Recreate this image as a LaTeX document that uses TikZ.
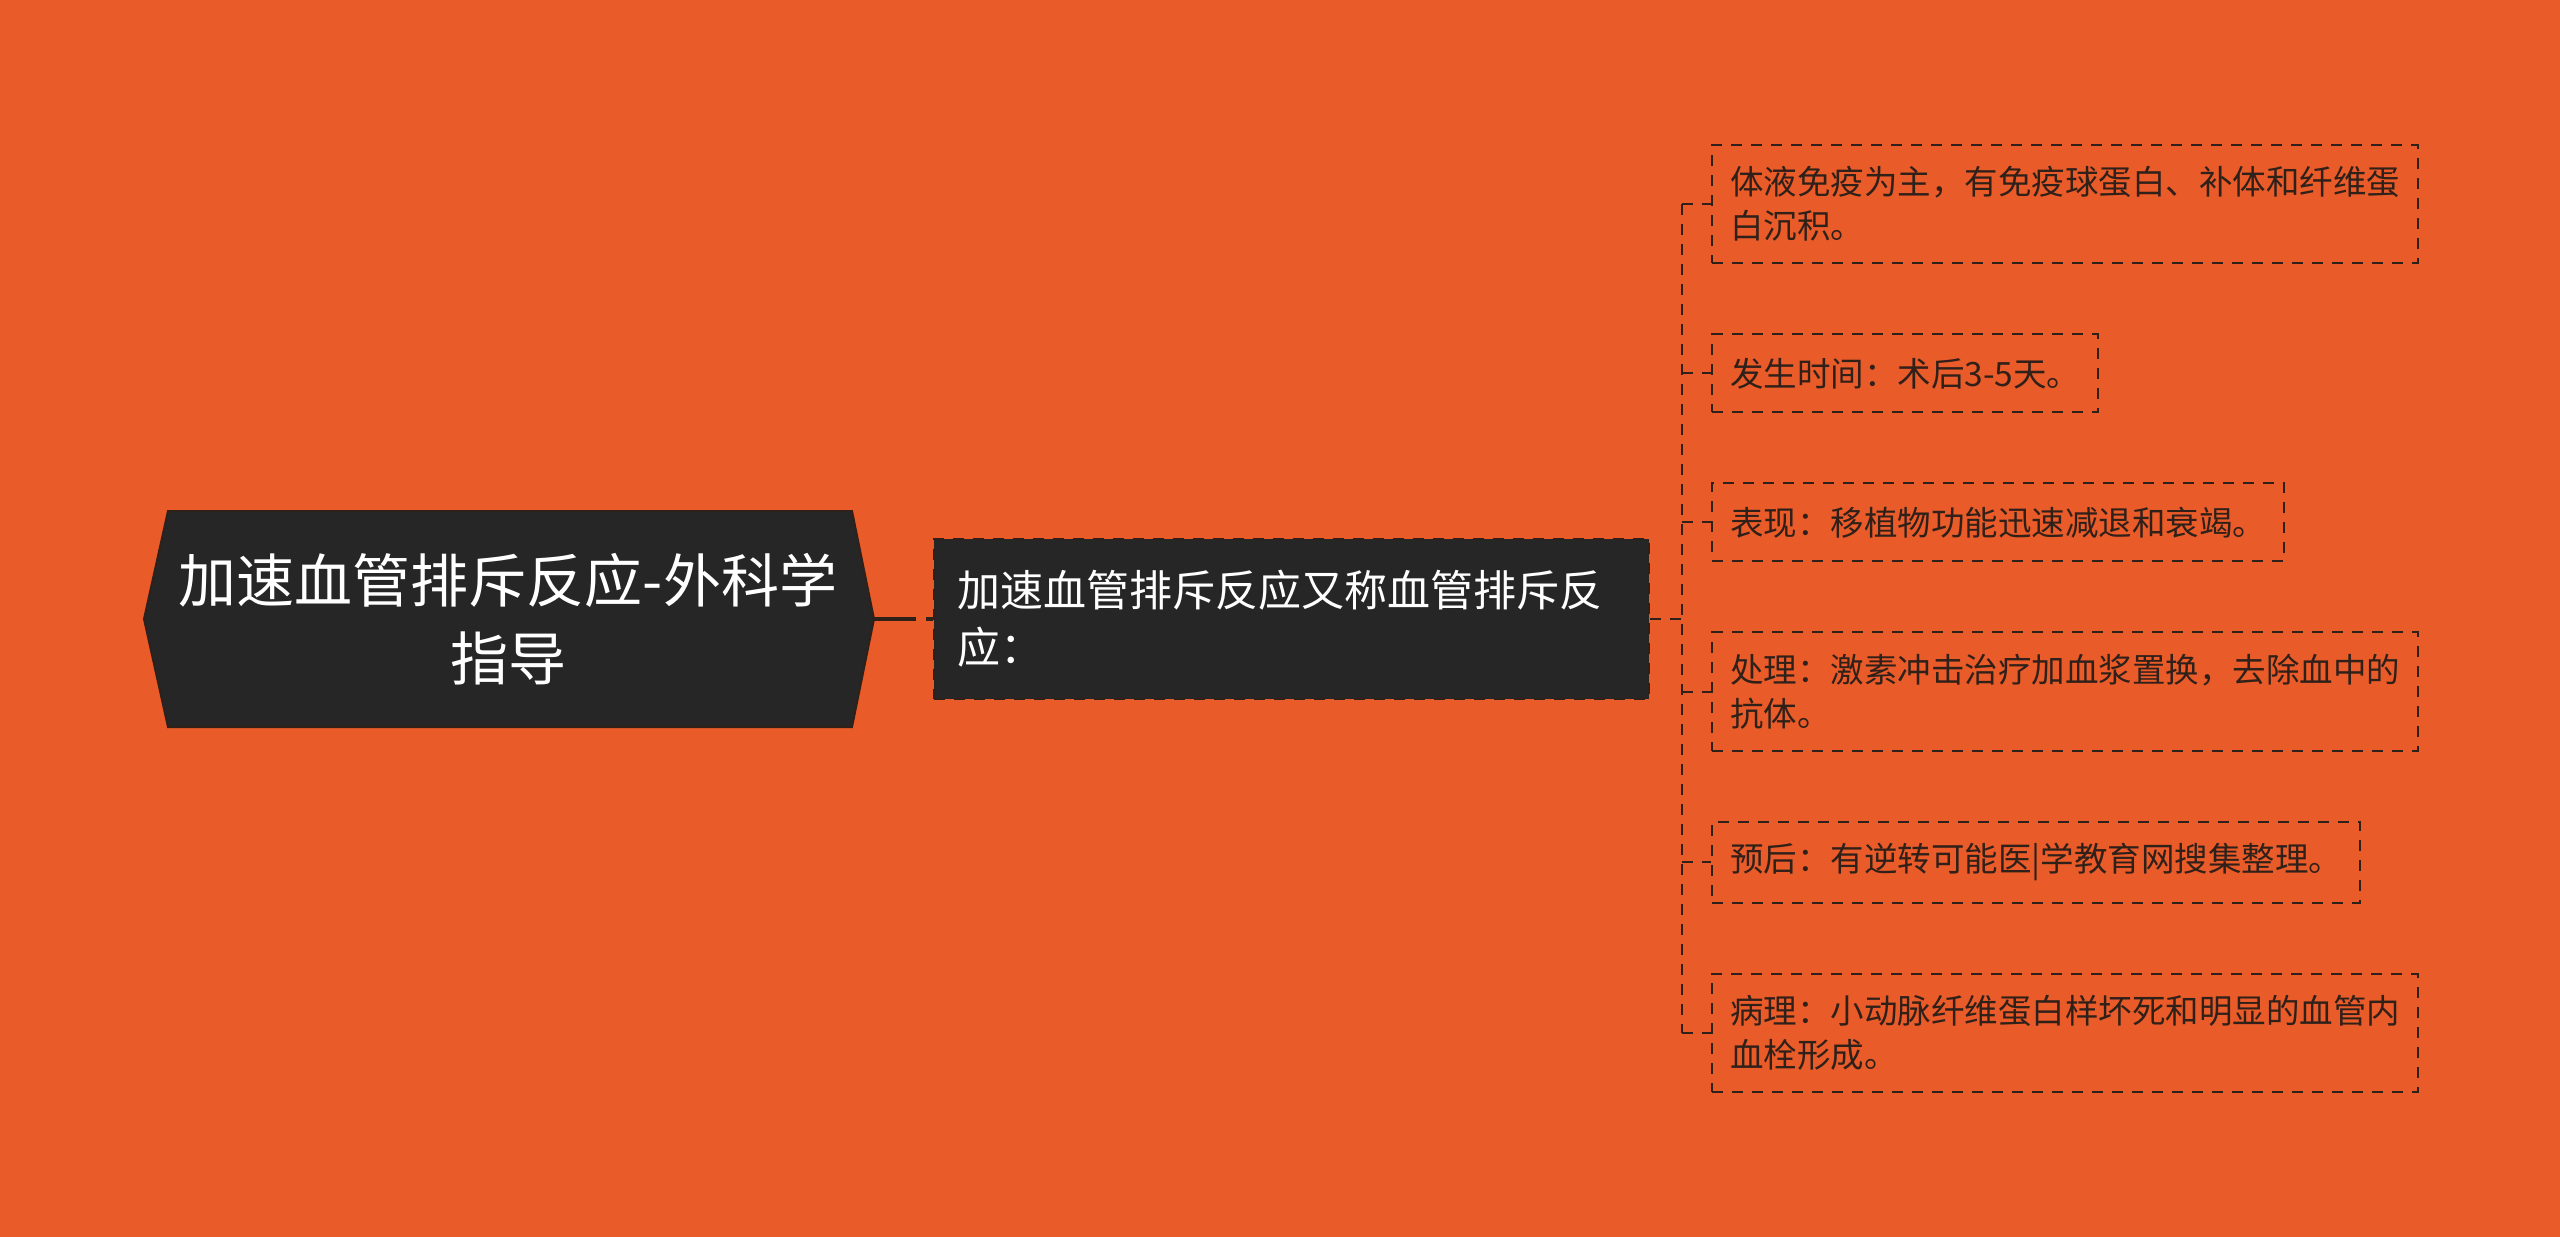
\documentclass[tikz,border=0pt]{standalone}
\usepackage{fontspec}
\setmainfont{Noto Sans CJK SC}
\usetikzlibrary{positioning}
\definecolor{bgorange}{HTML}{E95B28}
\definecolor{boxdark}{HTML}{262626}
\definecolor{inkdark}{HTML}{30201A}
\tikzset{
  rootbox/.style = {align=center, text=white, font=\fontsize{29}{39}\selectfont},
  topicbox/.style = {draw=inkdark, line width=1pt, dash pattern=on 5.5pt off 4.5pt, fill=boxdark, text=white,
    font=\fontsize{21.5}{28.5}\selectfont, align=left, text width=334.5pt, inner xsep=11.5pt, minimum height=80pt},
  leafbox/.style = {draw=inkdark, line width=1pt, dash pattern=on 5.5pt off 4.5pt, text=inkdark,
    font=\fontsize{16.75}{22}\selectfont, align=left, inner xsep=9pt, inner ysep=10.8pt,
    minimum height=39pt, anchor=north west},
  branch/.style = {draw=inkdark, line width=1pt, dash pattern=on 5.5pt off 4.5pt},
  link/.style = {draw=inkdark, line width=2pt, dash pattern=on 21pt off 5pt},
}
\begin{document}
\begin{tikzpicture}[x=0.5pt, y=-0.5pt]
\path[use as bounding box, fill=bgorange] (0,0) rectangle (2560,1237);

% root hexagon
\coordinate (rootW) at (144,619);
\coordinate (rootE) at (874,619);
\draw[inkdark, line width=1pt, fill=boxdark] (rootW) -- (168,511) -- (852,511) -- (rootE) -- (852,727) -- (168,727) -- cycle;
\node[rootbox] (root) at (508,619) {加速血管排斥反应-外科学\\指导};

\node[topicbox] (topic) at (1291.5,619) {加速血管排斥反应又称血管排斥反\\应：};
\draw[link] (rootE) -- (topic.west);

% leaves
\node[leafbox] (c1) at (1711,144) {体液免疫为主，有免疫球蛋白、补体和纤维蛋\\白沉积。};
\node[leafbox] (c2) [below=34.5pt of c1.south west, anchor=north west] {发生时间：术后3-5天。};
\node[leafbox] (c3) [below=34.5pt of c2.south west, anchor=north west] {表现：移植物功能迅速减退和衰竭。};
\node[leafbox] (c4) [below=34.5pt of c3.south west, anchor=north west] {处理：激素冲击治疗加血浆置换，去除血中的\\抗体。};
\node[leafbox] (c5) [below=34.5pt of c4.south west, anchor=north west] {预后：有逆转可能医|学教育网搜集整理。};
\node[leafbox] (c6) [below=34.5pt of c5.south west, anchor=north west] {病理：小动脉纤维蛋白样坏死和明显的血管内\\血栓形成。};

\coordinate (fork) at (1682,619);
\draw[branch] (topic.east) -- (fork);
\draw[branch] (fork |- c1.west) -- (fork |- c6.west);
\foreach \i in {1,...,6}
  \draw[branch] (fork |- c\i.west) -- (c\i.west);
\end{tikzpicture}
\end{document}
